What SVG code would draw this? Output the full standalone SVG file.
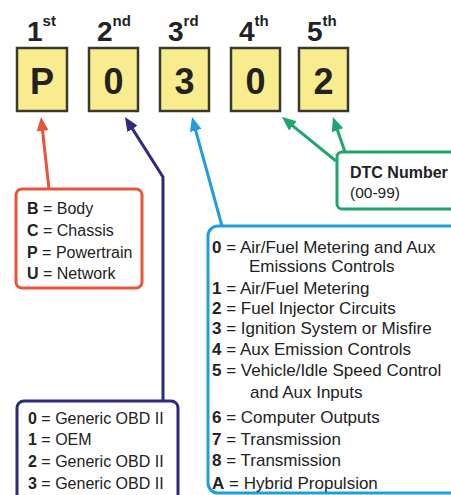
<svg xmlns="http://www.w3.org/2000/svg" width="451" height="495" viewBox="0 0 451 495">
<style>
text{font-family:"Liberation Sans",Arial,sans-serif;fill:#222}
.ord{font-size:28px;font-weight:bold}
.sup{font-size:15px;font-weight:bold}
.dig{font-size:36px;font-weight:bold;text-anchor:middle}
.cell{fill:#f9ec8e;stroke:#3a3a2a;stroke-width:2.5}
.t16{font-size:16px}
.t17{font-size:17px}
.b{font-weight:bold}
.ln{fill:none;stroke-width:3;stroke-linejoin:round}
</style>
<defs>
<marker id="mr" markerUnits="userSpaceOnUse" markerWidth="14" markerHeight="12" refX="8" refY="6" orient="auto"><path d="M0,0 L14,6 L0,12 Z" fill="#e8553a"/></marker>
<marker id="mn" markerUnits="userSpaceOnUse" markerWidth="14" markerHeight="12" refX="8" refY="6" orient="auto"><path d="M0,0 L14,6 L0,12 Z" fill="#2e2a7e"/></marker>
<marker id="mc" markerUnits="userSpaceOnUse" markerWidth="14" markerHeight="12" refX="8" refY="6" orient="auto"><path d="M0,0 L14,6 L0,12 Z" fill="#1e9fdc"/></marker>
<marker id="mg" markerUnits="userSpaceOnUse" markerWidth="14" markerHeight="12" refX="8" refY="6" orient="auto"><path d="M0,0 L14,6 L0,12 Z" fill="#1fa56e"/></marker>
</defs>
<rect width="451" height="495" fill="#fff"/>

<g id="pos1">
<text class="ord" x="27" y="41">1<tspan class="sup" dy="-15">st</tspan></text>
<rect class="cell" x="17" y="48" width="50" height="63"/>
<text class="dig" x="42" y="94">P</text>
</g>
<g id="pos2">
<text class="ord" x="97" y="41">2<tspan class="sup" dy="-15">nd</tspan></text>
<rect class="cell" x="89" y="48" width="49" height="63"/>
<text class="dig" x="113.5" y="94">0</text>
</g>
<g id="pos3">
<text class="ord" x="168" y="41">3<tspan class="sup" dy="-15">rd</tspan></text>
<rect class="cell" x="160" y="48" width="49" height="63"/>
<text class="dig" x="184.5" y="94">3</text>
</g>
<g id="pos4">
<text class="ord" x="239" y="41">4<tspan class="sup" dy="-15">th</tspan></text>
<rect class="cell" x="231" y="48" width="49" height="63"/>
<text class="dig" x="255.5" y="94">0</text>
</g>
<g id="pos5">
<text class="ord" x="307" y="41">5<tspan class="sup" dy="-15">th</tspan></text>
<rect class="cell" x="299" y="48" width="49" height="63"/>
<text class="dig" x="323.5" y="94">2</text>
</g>

<g id="connectors">
<path class="ln" stroke="#e8553a" d="M49,189 L41.7,123" marker-end="url(#mr)"/>
<path class="ln" stroke="#2e2a7e" d="M163,401 L163,177 L128.2,122.1" marker-end="url(#mn)"/>
<path class="ln" stroke="#1e9fdc" d="M222,226 L193.6,122.8" marker-end="url(#mc)"/>
<path class="ln" stroke="#1fa56e" d="M336,161 L286.6,120.8" marker-end="url(#mg)"/>
<path class="ln" stroke="#1fa56e" d="M345,152 L334.9,122.7" marker-end="url(#mg)"/>
</g>

<g id="first-char">
<rect x="16" y="189" width="126" height="99" rx="6" fill="#fff" stroke="#e8553a" stroke-width="3"/>
<text class="t16" x="27" y="214"><tspan class="b">B</tspan> = Body</text>
<text class="t16" x="27" y="236"><tspan class="b">C</tspan> = Chassis</text>
<text class="t16" x="27" y="258"><tspan class="b">P</tspan> = Powertrain</text>
<text class="t16" x="27" y="279"><tspan class="b">U</tspan> = Network</text>
</g>

<g id="second-char">
<rect x="17" y="401" width="161" height="110" rx="7" fill="#fff" stroke="#2e2a7e" stroke-width="3"/>
<text class="t16" x="28" y="424"><tspan class="b">0</tspan> = Generic OBD II</text>
<text class="t16" x="28" y="445"><tspan class="b">1</tspan> = OEM</text>
<text class="t16" x="28" y="467"><tspan class="b">2</tspan> = Generic OBD II</text>
<text class="t16" x="28" y="489"><tspan class="b">3</tspan> = Generic OBD II</text>
</g>

<g id="third-char">
<rect x="208" y="226" width="255" height="267" rx="10" fill="#fff" stroke="#1e9fdc" stroke-width="3"/>
<text class="t17" x="212" y="253"><tspan class="b">0</tspan> = Air/Fuel Metering and Aux</text>
<text class="t17" x="249" y="272">Emissions Controls</text>
<text class="t17" x="212" y="294"><tspan class="b">1</tspan> = Air/Fuel Metering</text>
<text class="t17" x="212" y="314"><tspan class="b">2</tspan> = Fuel Injector Circuits</text>
<text class="t17" x="212" y="334"><tspan class="b">3</tspan> = Ignition System or Misfire</text>
<text class="t17" x="212" y="355"><tspan class="b">4</tspan> = Aux Emission Controls</text>
<text class="t17" x="212" y="376"><tspan class="b">5</tspan> = Vehicle/Idle Speed Control</text>
<text class="t17" x="250" y="398">and Aux Inputs</text>
<text class="t17" x="212" y="423"><tspan class="b">6</tspan> = Computer Outputs</text>
<text class="t17" x="212" y="445"><tspan class="b">7</tspan> = Transmission</text>
<text class="t17" x="212" y="466"><tspan class="b">8</tspan> = Transmission</text>
<text class="t17" x="212" y="489"><tspan class="b">A</tspan> = Hybrid Propulsion</text>
</g>

<g id="dtc-number">
<rect x="337" y="152" width="125" height="57" rx="5" fill="#fff" stroke="#1fa56e" stroke-width="3"/>
<text class="t16 b" x="350" y="178">DTC Number</text>
<text class="t16" x="350" y="198" style="font-size:15.5px">(00-99)</text>
</g>
</svg>
